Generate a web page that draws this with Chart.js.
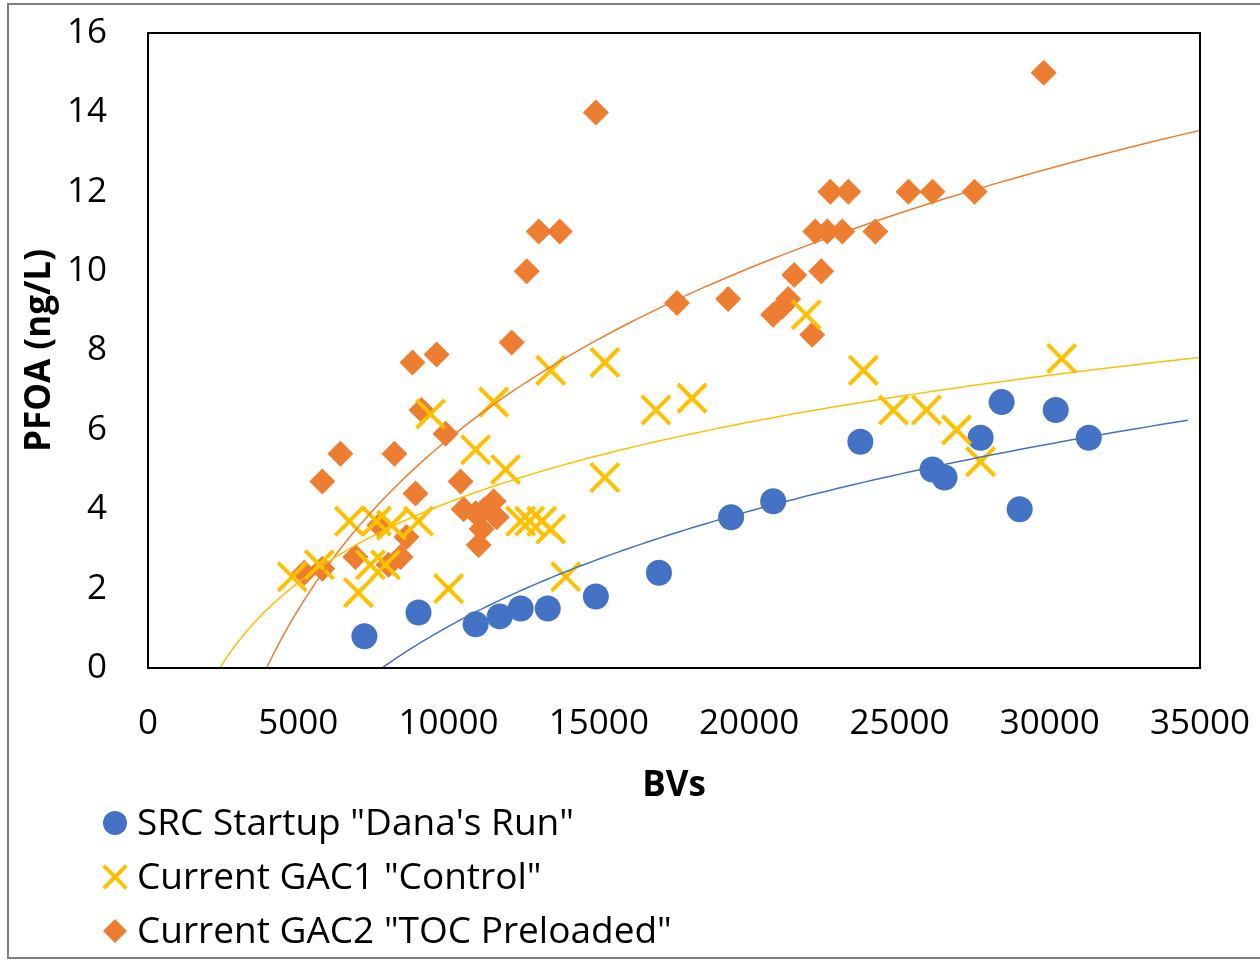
<!DOCTYPE html>
<html>
<head>
<meta charset="utf-8">
<title>PFOA vs BVs</title>
<script src="https://cdn.jsdelivr.net/npm/chart.js@4/dist/chart.umd.min.js"></script>
<style>
  html, body { margin: 0; padding: 0; background: #fff; }
  #wrap { position: relative; width: 1260px; height: 960px; overflow: hidden; }
  #frame { position: absolute; left: 7px; top: 3px; width: 1270px; height: 956px; border: 2px solid #7f7f7f; box-sizing: border-box; }
  #chart { position: absolute; left: 0; top: 0; }
</style>
</head>
<body>
<div id="wrap">
  <div id="frame"></div>
  <canvas id="chart" width="1260" height="960"></canvas>
</div>
<script>
  // series (BVs, PFOA ng/L)
  const seriesNames = ['SRC Startup "Dana\'s Run"', 'Current GAC1 "Control"', 'Current GAC2 "TOC Preloaded"']

  const danaBV = [7200, 9000, 10900, 11700, 12400, 13300, 14900, 17000, 19400, 20800, 23700, 26100, 26500, 27700, 28400, 29000, 30200, 31300]
  const danaPFOA = [0.8, 1.4, 1.1, 1.3, 1.5, 1.5, 1.8, 2.4, 3.8, 4.2, 5.7, 5.0, 4.8, 5.8, 6.7, 4.0, 6.5, 5.8]

  const controlBV = [4800, 5700, 6700, 7000, 7400, 7600, 7900, 8100, 9000, 9400, 10000, 10900, 11500, 11900, 12400, 12700, 13100, 13400, 13400, 13900, 15200, 15200, 16900, 18100, 21900, 23800, 24800, 25900, 26900, 27700, 30400]
  const controlPFOA = [2.3, 2.6, 3.7, 1.9, 2.6, 3.7, 2.6, 3.6, 3.7, 6.4, 2.0, 5.5, 6.7, 5.0, 3.7, 3.7, 3.7, 3.5, 7.5, 2.3, 7.7, 4.8, 6.5, 6.8, 8.9, 7.5, 6.5, 6.5, 6.0, 5.2, 7.8]

  const tocBV = [5200, 5800, 5800, 6400, 6900, 7700, 8000, 8200, 8400, 8600, 8800, 8900, 9100, 9600, 9900, 10400, 10500, 10900, 11000, 11100, 11200, 11500, 11600, 12100, 12600, 13000, 13700, 14900, 17600, 19300, 20800, 21100, 21300, 21500, 22100, 22200, 22400, 22600, 22700, 23100, 23300, 24200, 25300, 26100, 27500, 29800]
  const tocPFOA = [2.4, 2.5, 4.7, 5.4, 2.8, 3.6, 2.6, 5.4, 2.8, 3.3, 7.7, 4.4, 6.5, 7.9, 5.9, 4.7, 4.0, 3.9, 3.1, 3.5, 4.0, 4.2, 3.8, 8.2, 10, 11, 11, 14, 9.2, 9.3, 8.9, 9.1, 9.3, 9.9, 8.4, 11, 10, 11, 12, 11, 12, 11, 12, 12, 12, 15]

  // where each log trendline stops on the right
  const trendEndBV = [34600, 35000, 35000]

  const bvTicks = [0, 5000, 10000, 15000, 20000, 25000, 30000, 35000]
  const pfoaTicks = [0, 2, 4, 6, 8, 10, 12, 14, 16]

  const colors = ['#4472C4', '#FFC000', '#ED7D31']

  const toPoints = (xs, ys) => xs.map((x, i) => ({ x, y: ys[i] }))

  // least squares fit y = a ln(x) + b, like the Excel log trendline
  function logFit(xs, ys) {
    const n = xs.length
    const lx = xs.map(Math.log)
    const mx = lx.reduce((s, v) => s + v, 0) / n
    const my = ys.reduce((s, v) => s + v, 0) / n
    let sxy = 0, sxx = 0
    lx.forEach((v, i) => {
      sxy += (v - mx) * (ys[i] - my)
      sxx += (v - mx) * (v - mx)
    })
    const a = sxy / sxx
    return { a, b: my - a * mx }
  }

  function trendPoints(xs, ys, xEnd) {
    const { a, b } = logFit(xs, ys)
    const x0 = Math.exp(-b / a) // where the curve meets the x axis
    const pts = []
    for (let i = 0; i <= 120; i++) {
      const x = x0 * Math.pow(xEnd / x0, i / 120)
      pts.push({ x, y: a * Math.log(x) + b })
    }
    return pts
  }

  const markerStyles = [
    { pointStyle: 'circle', radius: 13, borderWidth: 0 },
    { pointStyle: 'crossRot', radius: 20, borderWidth: 4 },
    { pointStyle: 'rectRot', radius: 13, borderWidth: 0 },
  ]

  const raw = [[danaBV, danaPFOA], [controlBV, controlPFOA], [tocBV, tocPFOA]]
  const drawOrder = [2, 1, 3] // yellow crosses sit on top of the other markers

  const markerSets = raw.map(([xs, ys], i) => ({
    label: seriesNames[i],
    data: toPoints(xs, ys),
    pointStyle: markerStyles[i].pointStyle,
    pointRadius: markerStyles[i].radius,
    pointBorderWidth: markerStyles[i].borderWidth,
    pointBackgroundColor: colors[i],
    pointBorderColor: colors[i],
    showLine: false,
    order: drawOrder[i],
  }))

  const trendSets = raw.map(([xs, ys], i) => ({
    label: 'trend ' + i,
    data: trendPoints(xs, ys, trendEndBV[i]),
    showLine: true,
    borderColor: colors[i],
    borderWidth: 1.5,
    pointRadius: 0,
    fill: false,
    order: 0,
  }))

  const frameBox = {
    id: 'frameBox',
    afterDraw(chart) {
      const { ctx, chartArea: a } = chart
      ctx.save()
      ctx.strokeStyle = '#000'
      ctx.lineWidth = 2
      ctx.strokeRect(a.left, a.top, a.right - a.left, a.bottom - a.top)
      ctx.restore()
    }
  }

  // stacked legend under the x axis title
  const stackedLegend = {
    id: 'stackedLegend',
    afterDraw(chart) {
      const { ctx } = chart
      ctx.save()
      ctx.font = '37px "Open Sans"'
      ctx.textBaseline = 'middle'
      seriesNames.forEach((name, i) => {
        const y = 823 + i * 54
        const st = markerStyles[i]
        ctx.fillStyle = colors[i]
        ctx.strokeStyle = colors[i]
        ctx.lineWidth = st.borderWidth || 1
        Chart.helpers.drawPoint(ctx, {
          pointStyle: st.pointStyle,
          radius: i === 1 ? 16 : 12,
          rotation: 0,
          borderWidth: st.borderWidth,
        }, 115, y)
        ctx.fillStyle = '#000'
        ctx.fillText(name, 137, y + 1)
      })
      ctx.restore()
    }
  }

  Chart.defaults.color = '#000'
  Chart.defaults.font.family = '"Open Sans", sans-serif'

  new Chart(document.getElementById('chart'), {
    type: 'scatter',
    data: { datasets: [...trendSets, ...markerSets] },
    options: {
      responsive: false,
      animation: false,
      devicePixelRatio: 1,
      layout: { padding: { left: 0, right: 60, top: 33, bottom: 152 } },
      plugins: {
        legend: { display: false },
        tooltip: { enabled: false },
      },
      scales: {
        x: {
          type: 'linear',
          min: 0,
          max: 35000,
          afterBuildTicks: s => { s.ticks = bvTicks.map(v => ({ value: v })) },
          afterFit: s => { s.height = 140; s.paddingLeft = 0; s.paddingRight = 0 },
          grid: { display: false, drawTicks: false },
          border: { display: false },
          ticks: { font: { size: 35 }, padding: 35, maxRotation: 0, callback: v => String(v) },
          title: { display: true, text: 'BVs', font: { size: 35, weight: 'bold' }, padding: { top: 0, bottom: 1 } },
        },
        y: {
          type: 'linear',
          min: 0,
          max: 16,
          afterBuildTicks: s => { s.ticks = pfoaTicks.map(v => ({ value: v })) },
          afterFit: s => { s.width = 148; s.paddingTop = 0; s.paddingBottom = 0 },
          grid: { display: false, drawTicks: false },
          border: { display: false },
          ticks: { font: { size: 35 }, padding: 41, callback: v => String(v) },
          title: { display: true, text: 'PFOA (ng/L)', font: { size: 35, weight: 'bold' }, padding: { top: 19, bottom: 0 } },
        },
      },
    },
    plugins: [frameBox, stackedLegend],
  })
</script>
</body>
</html>
